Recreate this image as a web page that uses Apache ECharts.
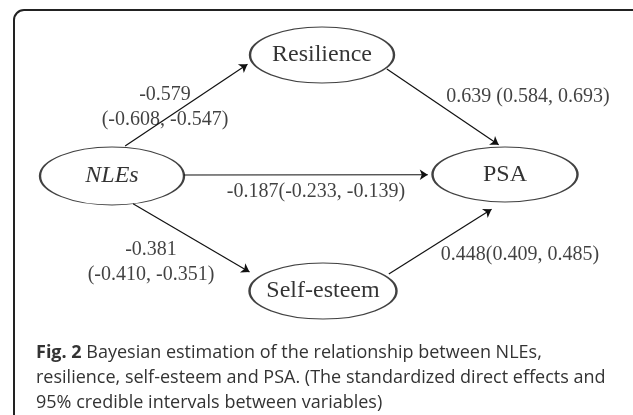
<!DOCTYPE html>
<html><head><meta charset="utf-8">
<script src="https://cdn.jsdelivr.net/npm/echarts@6/dist/echarts.min.js"></script>
<style>html,body{margin:0;padding:0;background:#fff}#c{width:633px;height:415px}</style>
</head><body><div id="c"></div>
<script>
// ---- data ----
const nodeNames = ['NLEs', 'Resilience', 'PSA', 'Self-esteem'];
const edgeSources = ['NLEs', 'Resilience', 'NLEs', 'NLEs', 'Self-esteem'];
const edgeTargets = ['Resilience', 'PSA', 'PSA', 'Self-esteem', 'PSA'];
const estimates = ['-0.579', '0.639', '-0.187', '-0.381', '0.448'];
const ciLower = ['-0.608', '0.584', '-0.233', '-0.410', '0.409'];
const ciUpper = ['-0.547', '0.693', '-0.139', '-0.351', '0.485'];
const captionBold = 'Fig. 2';
const captionLines = [
  ' Bayesian estimation of the relationship between NLEs,',
  'resilience, self-esteem and PSA. (The standardized direct effects and',
  '95% credible intervals between variables)'
];

// ---- layout (positions / sizes / styles) ----
const nodeLayout = {
  'NLEs':        { x: 112, y: 176,   w: 144, h: 58, italic: true },
  'Resilience':  { x: 322, y: 55,    w: 144, h: 56 },
  'PSA':         { x: 505, y: 174.5, w: 145, h: 55 },
  'Self-esteem': { x: 323, y: 291,   w: 147, h: 56 }
};
// ports: [angle deg, radial factor] on source and target ellipses
const edgePorts = [
  [[-80, 1.05], [165.8, 1.02]],
  [[29, 1.03], [-92.4, 1.0]],
  [[-2, 1.0], [179.5, 1.01]],
  [[73, 1.0], [-147.5, 1.13]],
  [[-34, 1.08], [96.7, 1.19]]
];
const labelSep = ['\n', ' ', '', '\n', ''];
const labelPos = [[165, 107.5], [528, 97], [316, 192], [151, 262.5], [520, 255]];
const arrowSize = 8;

function portPoint(name, port) {
  const n = nodeLayout[name];
  const t = port[0] * Math.PI / 180;
  return [n.x + port[1] * n.w / 2 * Math.cos(t), n.y + port[1] * n.h / 2 * Math.sin(t)];
}

const nodeData = nodeNames.map(nm => {
  const n = nodeLayout[nm];
  const d = { name: nm, value: [n.x, n.y], symbolSize: [n.w, n.h] };
  if (n.italic) d.label = { fontStyle: 'italic' };
  return d;
});

const edgeData = edgeSources.map((s, i) => {
  const p1 = portPoint(s, edgePorts[i][0]);
  const p2 = portPoint(edgeTargets[i], edgePorts[i][1]);
  const dx = p2[0] - p1[0], dy = p2[1] - p1[1];
  const len = Math.sqrt(dx * dx + dy * dy);
  const back = arrowSize / 2;
  const e = [p2[0] - dx / len * back, p2[1] - dy / len * back];
  return { coords: [p1, e] };
});

const labelData = estimates.map((est, i) => ({
  value: labelPos[i],
  name: est + labelSep[i] + '(' + ciLower[i] + ', ' + ciUpper[i] + ')'
}));

const chart = echarts.init(document.getElementById('c'), null, { renderer: 'canvas' });
chart.setOption({
  animation: false,
  backgroundColor: '#fff',
  grid: { left: 0, right: 0, top: 0, bottom: 0 },
  xAxis: { type: 'value', min: 0, max: 633, show: false },
  yAxis: { type: 'value', min: 0, max: 415, inverse: true, show: false },
  title: {
    left: 31, top: 335,
    text: '{b|' + captionBold + '}' + captionLines.join('\n'),
    textStyle: {
      fontFamily: 'Open Sans', fontSize: 18, fontWeight: 'normal', color: '#333',
      lineHeight: 25,
      rich: { b: { fontFamily: 'Open Sans', fontSize: 18, fontWeight: 'bold', color: '#333', lineHeight: 25 } }
    }
  },
  graphic: [{
    type: 'rect', silent: true,
    shape: { x: 14, y: 10, width: 628, height: 430, r: 10 },
    style: { fill: 'none', stroke: '#222', lineWidth: 2 }
  }],
  series: [
    {
      type: 'scatter', silent: true, z: 2,
      symbol: 'path://M0,50A50,50,0,1,1,100,50A50,50,0,1,1,0,50Z',
      itemStyle: { color: '#fff', borderColor: '#111', borderWidth: 1.5 },
      label: {
        show: true, position: 'inside', formatter: '{b}',
        fontFamily: 'Liberation Serif', fontSize: 24, color: '#000'
      },
      data: nodeData
    },
    {
      type: 'lines', coordinateSystem: 'cartesian2d', silent: true, z: 3,
      symbol: ['none', 'arrow'], symbolSize: arrowSize,
      lineStyle: { color: '#111', width: 1.2, opacity: 1 },
      data: edgeData
    },
    {
      type: 'scatter', silent: true, z: 4,
      symbolSize: 1, itemStyle: { color: 'rgba(0,0,0,0)' },
      label: {
        show: true, position: 'inside', formatter: '{b}',
        fontFamily: 'Liberation Serif', fontSize: 20, color: '#111', lineHeight: 25
      },
      data: labelData
    }
  ]
});
</script></body></html>
